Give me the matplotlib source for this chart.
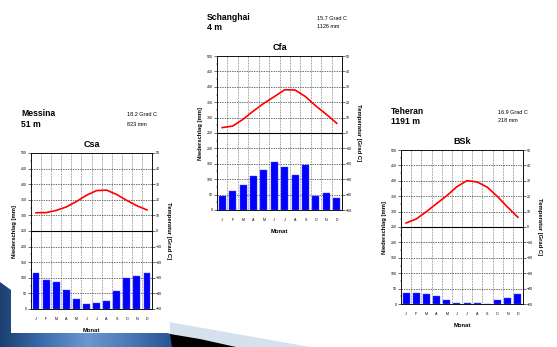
import matplotlib
matplotlib.use("Agg")
import matplotlib.pyplot as plt
import numpy as np
from matplotlib.patches import Polygon, Rectangle
from matplotlib.colors import LinearSegmentedColormap

plt.rcParams['font.family'] = ['Liberation Sans', 'DejaVu Sans']

W, H = 557, 347

months = ["J", "F", "M", "A", "M", "J", "J", "A", "S", "O", "N", "D"]

# Messina
messina_prec = [115, 94, 85, 61, 33, 17, 18, 25, 57, 98, 106, 114]
messina_temp = [11.7, 11.8, 13.2, 15.4, 18.9, 22.9, 25.9, 26.2, 23.4, 19.6, 16.2, 13.5]

# Schanghai
shanghai_prec = [44, 62, 81, 110, 131, 156, 140, 115, 145, 47, 55, 40]
shanghai_temp = [3.5, 4.5, 8.9, 14.3, 19.3, 23.6, 28.1, 27.9, 23.6, 17.5, 12.1, 6.3]

# Teheran
teheran_prec = [35, 37, 33, 27, 13, 4, 3, 2, 0, 12, 19, 34]
teheran_temp = [2.6, 5.2, 10.0, 15.2, 20.3, 26.2, 30.1, 29.2, 25.8, 19.7, 12.8, 6.3]

stations = [
    # name, height, mean temp, annual prec, climate class, precip, temp
    ("Messina", "51 m", "18.2 Grad C", "823 mm", "Csa", messina_prec, messina_temp),
    ("Schanghai", "4 m", "15.7 Grad C", "1126 mm", "Cfa", shanghai_prec, shanghai_temp),
    ("Teheran", "1191 m", "16.9 Grad C", "218 mm", "BSk", teheran_prec, teheran_temp),
]

# plot box in pixels: left, right, top, bottom
boxes = [(31, 152, 153, 309), (217, 342, 56, 210), (401, 523, 150, 304)]

fig = plt.figure(figsize=(W / 100, H / 100), dpi=100)
fig.patch.set_facecolor("white")

# slide background decoration (pixel coordinates)
bg = fig.add_axes([0, 0, 1, 1], zorder=-5)
bg.set_xlim(0, W)
bg.set_ylim(H, 0)
bg.axis("off")

pale = Polygon([(158, 320), (310, 347), (233, 347), (200, 339), (158, 333)],
               closed=True, facecolor="#d6e1ee", edgecolor="none")
bg.add_patch(pale)
black = Polygon([(158, 332), (200, 339), (236, 347), (160, 347)],
                closed=True, facecolor="black", edgecolor="none")
bg.add_patch(black)
blue_poly = Polygon([(0, 282), (11, 290), (170, 334), (172, 347), (0, 347)],
                    closed=True, facecolor="none", edgecolor="none")
bg.add_patch(blue_poly)
cmap = LinearSegmentedColormap.from_list("sw", ["#1b3f70", "#3c6eae", "#6c98cf", "#4a78b6", "#24518f"])
grad = np.linspace(0, 1, 256).reshape(1, -1)
im = bg.imshow(grad, cmap=cmap, extent=(0, 175, H, 280), aspect="auto", zorder=1)
im.set_clip_path(blue_poly)
bg.add_patch(Rectangle((11, 250), 159, 83, facecolor="white", edgecolor="none", zorder=3))


def px(x, y):
    return x / W, 1 - y / H


for (name, height, tmean, psum, klass, prec, temp), (l, r, t, b) in zip(stations, boxes):
    ax = fig.add_axes([l / W, 1 - b / H, (r - l) / W, (b - t) / H])
    x = np.arange(1, 13)
    ax.bar(x, prec, width=0.68, color="#0000ff", edgecolor="#5050ff", linewidth=0.3, zorder=3)
    ax.set_xlim(0.5, 12.5)
    ax.set_ylim(0, 500)
    ax.set_yticks(np.arange(0, 501, 50))
    ax.set_yticks(np.arange(0, 501, 25), minor=True)
    ax.set_xticks(x)
    ax.set_xticklabels(months, fontsize=2.6)
    ax.tick_params(axis="x", length=0, pad=6)
    ax.tick_params(axis="y", which="major", labelsize=2.6, length=2, width=0.4, pad=1)
    ax.tick_params(axis="y", which="minor", length=1, width=0.3)
    for yv in range(50, 500, 50):
        if yv == 250:
            continue
        ax.axhline(yv, color="#333333", lw=0.5, ls=(0, (2, 1.5)), zorder=1)
    ax.axhline(250, color="black", lw=0.8, zorder=2)
    for xv in np.arange(1.5, 12.5, 1):
        ax.axvline(xv, color="#555555", lw=0.5, ls=(0, (1, 1.2)), zorder=1)
    for s in ax.spines.values():
        s.set_linewidth(0.5)
    ax.set_xlabel("Monat", fontsize=4.2, fontweight="bold", labelpad=5)
    ax.set_ylabel("Niederschlag [mm]", fontsize=4.2, fontweight="bold", labelpad=3)

    ax2 = ax.twinx()
    ax2.plot(x, temp, color="#ff0000", lw=1.2, zorder=4)
    ax2.set_ylim(-50, 50)
    ax2.set_yticks(np.arange(-50, 51, 10))
    ax2.set_yticks(np.arange(-50, 51, 5), minor=True)
    ax2.tick_params(axis="y", which="major", labelsize=2.6, length=2, width=0.4, pad=1)
    ax2.tick_params(axis="y", which="minor", length=1, width=0.3)
    ax2.set_ylabel("Temperatur [Grad C]", fontsize=4.2, fontweight="bold", rotation=-90, labelpad=6)
    for s in ax2.spines.values():
        s.set_linewidth(0.5)

    ax.set_title(klass, fontsize=6.5, fontweight="bold", pad=4)

    cx = (l + r) / 2
    fig.text(*px(l - 10, t - 39), name, fontsize=6.2, fontweight="bold", va="center", ha="left")
    fig.text(*px(l - 10, t - 29), height, fontsize=6.2, fontweight="bold", va="center", ha="left")
    fig.text(*px(r - 25, t - 38), tmean, fontsize=4, va="center", ha="left")
    fig.text(*px(r - 25, t - 29), psum, fontsize=4, va="center", ha="left")

fig.savefig("out.png", dpi=100)
